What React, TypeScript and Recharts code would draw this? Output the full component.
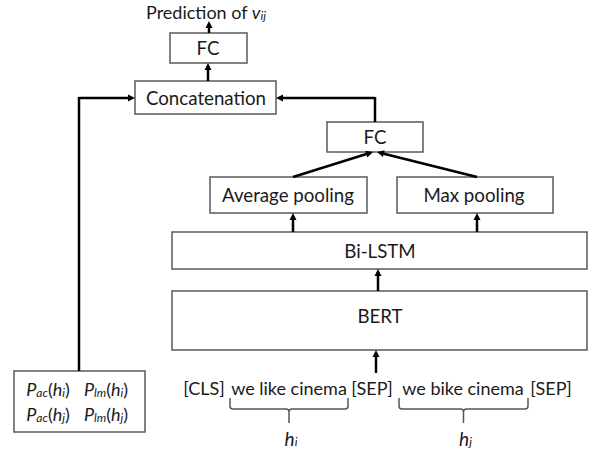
import React from 'react';
import { ComposedChart, XAxis, YAxis, ReferenceArea, ReferenceLine, ReferenceDot } from 'recharts';

const W = 597;
const H = 450;
const FONT = 'Lato, "Noto Sans", sans-serif';

// Boxes of the diagram (in diagram units = pixels of the reference)
const boxes = [
  { id: 'fcTop', x1: 170, x2: 247, y1: 33, y2: 63 },
  { id: 'concat', x1: 135, x2: 276, y1: 81, y2: 114 },
  { id: 'fcMid', x1: 327, x2: 423, y1: 122, y2: 152 },
  { id: 'avgPool', x1: 210, x2: 367, y1: 177, y2: 213 },
  { id: 'maxPool', x1: 397, x2: 553, y1: 177, y2: 213 },
  { id: 'bilstm', x1: 172, x2: 587, y1: 232, y2: 269 },
  { id: 'bert', x1: 172, x2: 587, y1: 291, y2: 350 },
  { id: 'probs', x1: 14, x2: 145, y1: 371, y2: 432 },
];

// Box labels
const labels = [
  { text: 'FC', x: 208, y: 48 },
  { text: 'Concatenation', x: 206, y: 98 },
  { text: 'FC', x: 375, y: 137 },
  { text: 'Average pooling', x: 288, y: 195 },
  { text: 'Max pooling', x: 474, y: 195 },
  { text: 'Bi-LSTM', x: 380, y: 251 },
  { text: 'BERT', x: 380, y: 316 },
];

// Input tokens
const tokens = [
  { text: '[CLS]', x: 204, y: 388 },
  { text: 'we like cinema', x: 289, y: 388 },
  { text: '[SEP]', x: 372, y: 388 },
  { text: 'we bike cinema', x: 463, y: 388 },
  { text: '[SEP]', x: 551, y: 388 },
];

// Braces under token spans
const braces = [
  { x1: 230, x2: 348, y1: 398, y2: 423, sub: 'i' },
  { x1: 399, x2: 528, y1: 398, y2: 423, sub: 'j' },
];

// Arrows (segments ending with arrowheads) and plain connector segments
const arrows = [
  { x1: 209, y1: 33, x2: 209, y2: 21 },
  { x1: 208, y1: 81, x2: 208, y2: 63 },
  { x1: 79, y1: 98, x2: 135, y2: 98 },
  { x1: 375, y1: 98, x2: 276, y2: 98 },
  { x1: 293, y1: 177, x2: 373, y2: 152 },
  { x1: 477, y1: 177, x2: 377, y2: 152 },
  { x1: 293, y1: 232, x2: 293, y2: 213 },
  { x1: 477, y1: 232, x2: 477, y2: 213 },
  { x1: 378, y1: 291, x2: 378, y2: 269 },
  { x1: 376, y1: 373, x2: 376, y2: 350 },
];
const connectors = [
  { x1: 79, y1: 371, x2: 79, y2: 97 },
  { x1: 375, y1: 122, x2: 375, y2: 97 },
];

// Probability terms in the lower-left box
const probTerms = [
  { name: 'ac', sub: 'i', x: 48, y: 389 },
  { name: 'lm', sub: 'i', x: 106, y: 389 },
  { name: 'ac', sub: 'j', x: 48, y: 414 },
  { name: 'lm', sub: 'j', x: 106, y: 414 },
];

const ArrowShape = (props: any) => {
  const { x1, y1, x2, y2 } = props;
  const dx = x2 - x1;
  const dy = y2 - y1;
  const len = Math.sqrt(dx * dx + dy * dy) || 1;
  const ux = dx / len;
  const uy = dy / len;
  const hl = 7;
  const hw = 3.5;
  const bx = x2 - ux * hl;
  const by = y2 - uy * hl;
  const p1 = `${bx - uy * hw},${by + ux * hw}`;
  const p2 = `${bx + uy * hw},${by - ux * hw}`;
  return (
    <g>
      <line x1={x1} y1={y1} x2={bx + ux * 1} y2={by + uy * 1} stroke="#000" strokeWidth={2.5} />
      <polygon points={`${x2},${y2} ${p1} ${p2}`} fill="#000" />
    </g>
  );
};

const LineShape = (props: any) => {
  const { x1, y1, x2, y2 } = props;
  return <line x1={x1} y1={y1} x2={x2} y2={y2} stroke="#000" strokeWidth={2.5} />;
};

const BoxShape = (props: any) => {
  const { x, y, width, height } = props;
  return <rect x={x} y={y} width={width} height={height} fill="#fff" stroke="#595959" strokeWidth={1.5} />;
};

const BraceShape = (props: any) => {
  const { x, y, width, height } = props;
  const xl = x;
  const xr = x + width;
  const mid = x + width / 2;
  const bar = y + 11;
  const bot = y + height;
  const d = `M${xl},${y} L${xl},${bar - 3} Q${xl},${bar} ${xl + 3},${bar} L${mid - 3},${bar} Q${mid},${bar} ${mid},${bar + 3} L${mid},${bot} M${xr},${y} L${xr},${bar - 3} Q${xr},${bar} ${xr - 3},${bar} L${mid + 3},${bar} Q${mid},${bar} ${mid},${bar + 3}`;
  return <path d={d} fill="none" stroke="#555" strokeWidth={1.5} />;
};

const textShape = (t: string, size = 18) => (props: any) => (
  <text x={props.cx} y={props.cy} textAnchor="middle" dominantBaseline="central" fontFamily={FONT} fontSize={size} fill="#1a1a1a">
    {t}
  </text>
);

const predictionShape = (props: any) => (
  <text x={props.cx} y={props.cy} textAnchor="middle" dominantBaseline="central" fontFamily={FONT} fontSize={18} fill="#1a1a1a">
    Prediction of <tspan fontStyle="italic">v</tspan>
    <tspan fontStyle="italic" fontSize={12} dy={3}>ij</tspan>
  </text>
);

const hShape = (sub: string) => (props: any) => (
  <text x={props.cx} y={props.cy} textAnchor="middle" dominantBaseline="central" fontFamily={FONT} fontSize={19} fill="#1a1a1a" fontStyle="italic">
    h<tspan fontSize={12} dy={3}>{sub}</tspan>
  </text>
);

const probShape = (name: string, sub: string) => (props: any) => (
  <text x={props.cx} y={props.cy} textAnchor="middle" dominantBaseline="central" fontFamily={FONT} fontSize={18} fill="#1a1a1a">
    <tspan fontStyle="italic">P</tspan>
    <tspan fontStyle="italic" fontSize={12} dy={3}>{name}</tspan>
    <tspan dy={-3}>(</tspan>
    <tspan fontStyle="italic">h</tspan>
    <tspan fontStyle="italic" fontSize={12} dy={3}>{sub}</tspan>
    <tspan dy={-3}>)</tspan>
  </text>
);

export default function App() {
  return (
    <div style={{ position: 'absolute', left: 0, top: 0, width: W, height: H, background: '#fff' }}>
      <ComposedChart width={W} height={H} data={[{ x: 0, y: 0 }]} margin={{ top: 0, right: 0, bottom: 0, left: 0 }}>
        <XAxis type="number" dataKey="x" domain={[0, W]} hide allowDataOverflow />
        <YAxis type="number" dataKey="y" domain={[0, H]} reversed hide allowDataOverflow />
        {connectors.map((c, i) => (
          <ReferenceLine key={`c${i}`} segment={[{ x: c.x1, y: c.y1 }, { x: c.x2, y: c.y2 }]} shape={LineShape} ifOverflow="visible" />
        ))}
        {boxes.map((b) => (
          <ReferenceArea key={b.id} x1={b.x1} x2={b.x2} y1={b.y1} y2={b.y2} shape={BoxShape} ifOverflow="visible" />
        ))}
        {arrows.map((a, i) => (
          <ReferenceLine key={`a${i}`} segment={[{ x: a.x1, y: a.y1 }, { x: a.x2, y: a.y2 }]} shape={ArrowShape} ifOverflow="visible" />
        ))}
        {braces.map((b, i) => (
          <ReferenceArea key={`b${i}`} x1={b.x1} x2={b.x2} y1={b.y1} y2={b.y2} shape={BraceShape} ifOverflow="visible" />
        ))}
        {labels.map((l, i) => (
          <ReferenceDot key={`l${i}`} x={l.x} y={l.y} r={0} shape={textShape(l.text, 18.7)} ifOverflow="visible" />
        ))}
        {tokens.map((t, i) => (
          <ReferenceDot key={`t${i}`} x={t.x} y={t.y} r={0} shape={textShape(t.text, 18)} ifOverflow="visible" />
        ))}
        {braces.map((b, i) => (
          <ReferenceDot key={`h${i}`} x={(b.x1 + b.x2) / 2 + 2} y={438} r={0} shape={hShape(b.sub)} ifOverflow="visible" />
        ))}
        {probTerms.map((p, i) => (
          <ReferenceDot key={`p${i}`} x={p.x} y={p.y} r={0} shape={probShape(p.name, p.sub)} ifOverflow="visible" />
        ))}
        <ReferenceDot x={206} y={12} r={0} shape={predictionShape} ifOverflow="visible" />
      </ComposedChart>
    </div>
  );
}
